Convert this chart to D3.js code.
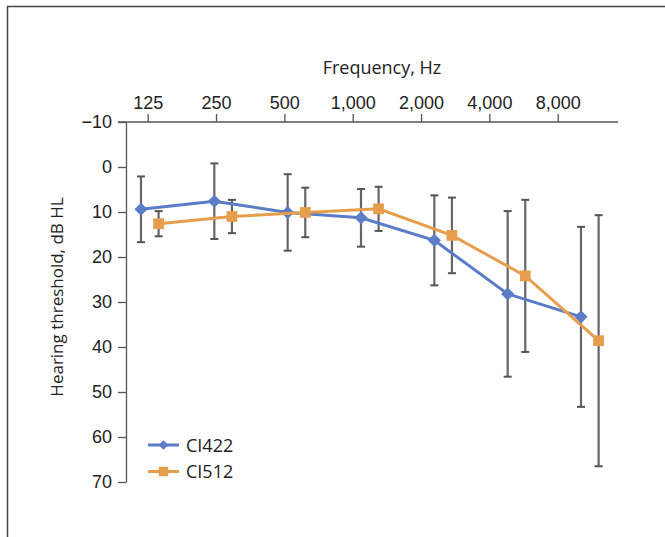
<!DOCTYPE html>
<html>
<head>
<meta charset="utf-8">
<script src="https://cdn.jsdelivr.net/npm/d3@7"></script>
<style>
  body { margin: 0; background: #fff; }
  svg { font-family: "Open Sans", "Noto Sans", sans-serif; }
</style>
</head>
<body>
<div id="container"></div>
<script>
/* DATA */
const freqLabels = ["125", "250", "500", "1,000", "2,000", "4,000", "8,000"];
const ci422Mean = [9.4, 7.6, 10.1, 11.3, 16.3, 28.2, 33.3];
const ci422Sd = [7.3, 8.4, 8.5, 6.4, 10.0, 18.4, 20.0];
const ci512Mean = [12.6, 11.0, 10.1, 9.3, 15.2, 24.2, 38.6];
const ci512Sd = [2.8, 3.7, 5.5, 4.9, 8.4, 16.9, 27.9];
const yTicks = [-10, 0, 10, 20, 30, 40, 50, 60, 70];

/* CONSTANTS */
const width = 665,
  height = 537,
  margin = { top: 122, left: 126, right: 47, bottom: 55 };

const series = [
  { name: "CI422", mean: ci422Mean, sd: ci422Sd, color: "#5b7cc6", shape: "diamond", offset: 0 },
  { name: "CI512", mean: ci512Mean, sd: ci512Sd, color: "#e79e4c", shape: "square", offset: 0.24 }
];

const svg = d3.select("#container")
  .append("svg")
  .attr("width", width)
  .attr("height", height);

// outer frame (top and left edges visible)
svg.append("path")
  .attr("d", `M7.5,${height} V6.5 H${width}`)
  .attr("fill", "none")
  .attr("stroke", "#444")
  .attr("stroke-width", 1.5);

// SCALES
const yScale = d3.scaleLinear()
  .domain([-10, 70])
  .range([margin.top, height - margin.bottom]);

// tick positions for frequency labels
const xTick = d3.scaleLinear()
  .domain([0, 6])
  .range([147.7, 557.7]);

// data positions (index + series offset)
const xData = d3.scaleLinear()
  .domain([0, 6])
  .range([141, 581]);

// AXES
const xAxis = d3.axisTop(xTick)
  .tickValues(d3.range(freqLabels.length))
  .tickFormat(i => freqLabels[i])
  .tickSize(8)
  .tickSizeOuter(0)
  .tickPadding(5);

const xG = svg.append("g")
  .attr("transform", `translate(0, ${margin.top})`)
  .call(xAxis);
xG.select(".domain").remove();
xG.append("line")
  .attr("x1", margin.left - 8)
  .attr("x2", width - margin.right)
  .attr("stroke", "#555")
  .attr("stroke-width", 1.3);
xG.selectAll(".tick line").attr("stroke", "#555").attr("stroke-width", 1.3);
xG.selectAll(".tick text")
  .attr("fill", "#222")
  .attr("font-size", 18);

svg.append("text")
  .attr("x", 382)
  .attr("y", 74)
  .attr("text-anchor", "middle")
  .attr("font-size", 18)
  .attr("fill", "#222")
  .text("Frequency, Hz");

const yAxis = d3.axisLeft(yScale)
  .tickValues(yTicks)
  .tickFormat(d => d < 0 ? "\u2212" + Math.abs(d) : d)
  .tickSize(8)
  .tickSizeOuter(0)
  .tickPadding(6);

const yG = svg.append("g")
  .attr("transform", `translate(${margin.left}, 0)`)
  .call(yAxis);
yG.select(".domain").attr("stroke", "#555").attr("stroke-width", 1.3);
yG.selectAll(".tick line").attr("stroke", "#555").attr("stroke-width", 1.3);
yG.selectAll(".tick text")
  .attr("fill", "#222")
  .attr("font-size", 18);

svg.append("text")
  .attr("transform", `translate(63, ${(yScale(-10) + yScale(70)) / 2 - 5}) rotate(-90)`)
  .attr("text-anchor", "middle")
  .attr("font-size", 17)
  .attr("fill", "#222")
  .text("Hearing threshold, dB HL");

// ERROR BARS
const capW = 4;
series.forEach(s => {
  const g = svg.append("g").attr("class", "err");
  const pts = s.mean.map((m, i) => ({ x: xData(i + s.offset), lo: m - s.sd[i], hi: m + s.sd[i] }));
  g.selectAll("line.bar")
    .data(pts)
    .join("line")
    .attr("class", "bar")
    .attr("x1", d => d.x).attr("x2", d => d.x)
    .attr("y1", d => yScale(d.lo)).attr("y2", d => yScale(d.hi))
    .attr("stroke", "#666").attr("stroke-width", 2.2);
  ["lo", "hi"].forEach(k => {
    g.selectAll("line.cap" + k)
      .data(pts)
      .join("line")
      .attr("class", "cap" + k)
      .attr("x1", d => d.x - capW).attr("x2", d => d.x + capW)
      .attr("y1", d => yScale(d[k])).attr("y2", d => yScale(d[k]))
      .attr("stroke", "#555").attr("stroke-width", 2);
  });
});

// LINES AND MARKERS
const symbolFor = shape => shape === "diamond"
  ? d3.symbol().type(d3.symbolDiamond2).size(110)
  : d3.symbol().type(d3.symbolSquare).size(115);

series.forEach(s => {
  const line = d3.line()
    .x((d, i) => xData(i + s.offset))
    .y(d => yScale(d));
  svg.append("path")
    .datum(s.mean)
    .attr("fill", "none")
    .attr("stroke", s.color)
    .attr("stroke-width", 3)
    .attr("d", line);
  svg.selectAll("path.m-" + s.name)
    .data(s.mean)
    .join("path")
    .attr("class", "m-" + s.name)
    .attr("transform", (d, i) => `translate(${xData(i + s.offset)}, ${yScale(d)})`)
    .attr("d", symbolFor(s.shape)())
    .attr("fill", s.color);
});

// LEGEND
const legend = svg.append("g").attr("transform", "translate(148, 445)");
series.forEach((s, i) => {
  const row = legend.append("g").attr("transform", `translate(0, ${i * 26.5})`);
  row.append("line")
    .attr("x1", 0).attr("x2", 31)
    .attr("stroke", s.color).attr("stroke-width", 3);
  row.append("path")
    .attr("transform", "translate(15.5, 0)")
    .attr("d", (s.shape === "diamond"
      ? d3.symbol().type(d3.symbolDiamond2).size(60)
      : d3.symbol().type(d3.symbolSquare).size(90))())
    .attr("fill", s.color);
  row.append("text")
    .attr("x", 38)
    .attr("y", 6.5)
    .attr("font-size", 18)
    .attr("fill", "#222")
    .text(s.name);
});
</script>
</body>
</html>
